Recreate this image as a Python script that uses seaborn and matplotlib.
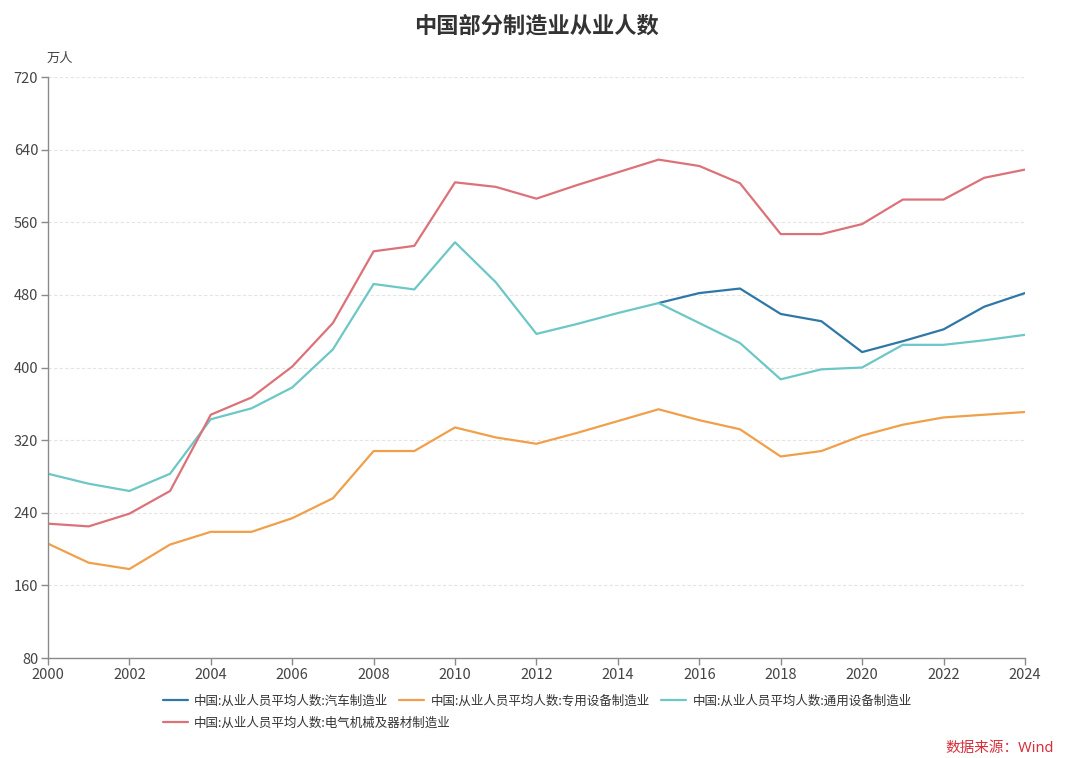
import numpy as np
import pandas as pd
import seaborn as sns
import matplotlib
matplotlib.use('Agg')
import matplotlib.pyplot as plt

# data (万人)
years = list(range(2000, 2025))

auto = [np.nan] * 15 + [471, 482, 487, 459, 451, 417, 429, 442, 467, 482]

special_equip = [206, 185, 178, 205, 219, 219, 234, 256, 308, 308,
                 334, 323, 316, 328, 341, 354, 342, 332, 302, 308,
                 325, 337, 345, 348, 351]

general_equip = [283, 272, 264, 283, 343, 355, 378, 420, 492, 486,
                 538, 494, 437, 448, 460, 471, 449, 427, 387, 398,
                 400, 425, 425, 430, 436]

electrical = [228, 225, 239, 264, 348, 367, 401, 449, 528, 534,
              604, 599, 586, 601, 615, 629, 622, 603, 547, 547,
              558, 585, 585, 609, 618]

series_names = ['中国:从业人员平均人数:汽车制造业',
                '中国:从业人员平均人数:专用设备制造业',
                '中国:从业人员平均人数:通用设备制造业',
                '中国:从业人员平均人数:电气机械及器材制造业']
colors = ['#2f77a6', '#f0a04b', '#6cc7c6', '#dc7279']

title = '中国部分制造业从业人数'
unit = '万人'
source = '数据来源：Wind'

sns.set_theme(style='white')
plt.rcParams['font.family'] = ['Noto Sans CJK SC', 'DejaVu Sans']
plt.rcParams['axes.unicode_minus'] = False

fig = plt.figure(figsize=(10.8, 7.58), dpi=100)
ax = fig.add_axes([0.0444, 0.1319, 0.9046, 0.7665])

values = [auto, special_equip, general_equip, electrical]
handles = []
for name, vals, col in zip(series_names, values, colors):
    df = pd.DataFrame({'year': years, 'value': vals}).dropna()
    sns.lineplot(data=df, x='year', y='value', color=col, linewidth=1.6,
                 ax=ax, label=name)
    handles.append(ax.lines[-1])

ax.set_xlim(2000, 2024)
ax.set_ylim(80, 720)
ax.set_xticks(range(2000, 2025, 2))
ax.set_yticks(range(80, 721, 80))
ax.set_xlabel('')
ax.set_ylabel('')

ax.grid(axis='y', color='#e4e4e4', linestyle=(0, (3, 2)), linewidth=0.8)
ax.grid(axis='x', visible=False)
for s in ['top', 'right']:
    ax.spines[s].set_visible(False)
for s in ['left', 'bottom']:
    ax.spines[s].set_color('#8a8a8a')
    ax.spines[s].set_linewidth(1.0)
ax.tick_params(axis='both', which='major', length=5, width=1.0,
               color='#8a8a8a', labelcolor='#444444', labelsize=10.5,
               direction='out', bottom=True, left=True, pad=2)

fig.text(0.0435, 0.915, unit, fontsize=9.5, color='#444444', ha='left', va='bottom')
fig.text(0.497, 0.966, title, fontsize=16, fontweight='bold', color='#333333',
         ha='center', va='center')

# legend laid out as two flowing rows
leg_kw = dict(frameon=False, fontsize=9, handlelength=2.0, columnspacing=0.9,
              handletextpad=0.5, labelcolor='#333333', borderaxespad=0)
leg1 = fig.legend(handles[:3], series_names[:3], ncol=3, loc='center left',
                  bbox_to_anchor=(0.146, 0.075), **leg_kw)
fig.legend(handles[3:], series_names[3:], ncol=1, loc='center left',
           bbox_to_anchor=(0.146, 0.046), **leg_kw)
ax.legend_.remove()

fig.text(0.976, 0.003, source, fontsize=10.5, color='#d7303b', ha='right',
         va='bottom', family=['Noto Sans', 'Noto Sans CJK SC'])

fig.savefig('out.png', dpi=100)
